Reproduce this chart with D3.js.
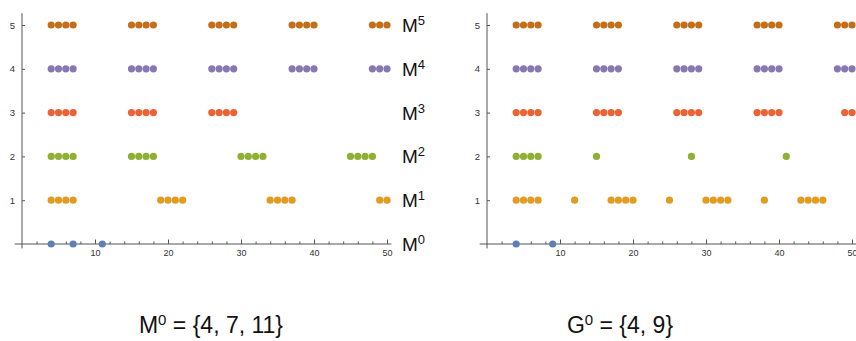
<!DOCTYPE html>
<html>
<head>
<meta charset="utf-8">
<script src="https://d3js.org/d3.v7.min.js"></script>
<style>
  body { margin: 0; background: #fff; }
  .axis text { font-family: "Liberation Sans", Arial, sans-serif; fill: #333; }
  .axis path { display: none; }
  .axis line { stroke: #555; }
</style>
</head>
<body>
<svg id="chart" width="856" height="341"></svg>
<script>
// rows of each panel, bottom (level 0) to top (level 5)
var m0 = [4, 7, 11];
var m1 = [4, 5, 6, 7, 19, 20, 21, 22, 34, 35, 36, 37, 49, 50];
var m2 = [4, 5, 6, 7, 15, 16, 17, 18, 30, 31, 32, 33, 45, 46, 47, 48];
var m3 = [4, 5, 6, 7, 15, 16, 17, 18, 26, 27, 28, 29];
var m4 = [4, 5, 6, 7, 15, 16, 17, 18, 26, 27, 28, 29, 37, 38, 39, 40, 48, 49, 50];
var m5 = [4, 5, 6, 7, 15, 16, 17, 18, 26, 27, 28, 29, 37, 38, 39, 40, 48, 49, 50];

var g0 = [4, 9];
var g1 = [4, 5, 6, 7, 12, 17, 18, 19, 20, 25, 30, 31, 32, 33, 38, 43, 44, 45, 46];
var g2 = [4, 5, 6, 7, 15, 28, 41];
var g3 = [4, 5, 6, 7, 15, 16, 17, 18, 26, 27, 28, 29, 37, 38, 39, 40, 49, 50];
var g4 = [4, 5, 6, 7, 15, 16, 17, 18, 26, 27, 28, 29, 37, 38, 39, 40, 48, 49, 50];
var g5 = [4, 5, 6, 7, 15, 16, 17, 18, 26, 27, 28, 29, 37, 38, 39, 40, 48, 49, 50];

var levelColors = ["#5E81B5", "#E19C24", "#8FB032", "#EB6235", "#8778B3", "#C56E1A"];
var xMinor = d3.range(2, 51, 2);
var xMajor = [10, 20, 30, 40, 50];
var yTicks = [1, 2, 3, 4, 5];

var svg = d3.select("#chart");
var font = "'Liberation Sans', Arial, sans-serif";

function drawPanel(left, rows, letter, base, captionX, showLabels) {
    var x = d3.scaleLinear().domain([0, 50]).range([left, left + 365]);
    var y = d3.scaleLinear().domain([0, 5]).range([244, 25]);
    var g = svg.append("g");

    // axes lines
    g.append("line")
        .attr("x1", x(-1)).attr("x2", x(50.6))
        .attr("y1", y(0)).attr("y2", y(0))
        .attr("stroke", "#555");
    g.append("line")
        .attr("x1", x(0)).attr("x2", x(0))
        .attr("y1", y(-0.1)).attr("y2", y(5.27))
        .attr("stroke", "#555");

    g.append("g")
        .attr("class", "axis")
        .attr("transform", "translate(0," + y(0) + ")")
        .call(d3.axisBottom(x).tickValues(xMinor).tickSize(-2.5).tickFormat(""));
    g.append("g")
        .attr("class", "axis")
        .attr("transform", "translate(0," + y(0) + ")")
        .call(d3.axisBottom(x).tickValues(xMajor).tickSize(-4.5).tickPadding(6))
        .selectAll("text").style("font-size", "9px");

    var ya = g.append("g")
        .attr("class", "axis")
        .attr("transform", "translate(" + x(0) + ",0)")
        .call(d3.axisLeft(y).tickValues(yTicks).tickFormat(d3.format("d")).tickSize(3).tickPadding(4));
    ya.selectAll("text").style("font-size", "9.5px");
    ya.selectAll(".tick line").attr("x2", 3);

    // points
    rows.forEach(function(vals, level) {
        g.selectAll(null)
            .data(vals)
            .enter().append("circle")
            .attr("cx", function(d) { return x(d); })
            .attr("cy", y(level))
            .attr("r", 3.6)
            .attr("fill", levelColors[level]);

        if (!showLabels) return;
        var lab = g.append("text")
            .attr("x", left + 380)
            .attr("y", y(level) + 7)
            .style("font-family", font)
            .style("font-size", "19px")
            .attr("fill", "#111")
            .text(letter);
        lab.append("tspan")
            .attr("dy", -7)
            .style("font-size", "13px")
            .text(level);
    });

    // caption
    var t = svg.append("text")
        .attr("x", captionX)
        .attr("y", 333)
        .attr("text-anchor", "middle")
        .style("font-family", font)
        .style("font-size", "23px")
        .attr("fill", "#111")
        .text(letter);
    t.append("tspan").attr("dy", -8).style("font-size", "15px").text("0");
    t.append("tspan").attr("dy", 8).text(" = {" + base.join(", ") + "}");
}

drawPanel(22, [m0, m1, m2, m3, m4, m5], "M", m0, 211, true);
drawPanel(487, [g0, g1, g2, g3, g4, g5], "G", g0, 620, false);
</script>
</body>
</html>
